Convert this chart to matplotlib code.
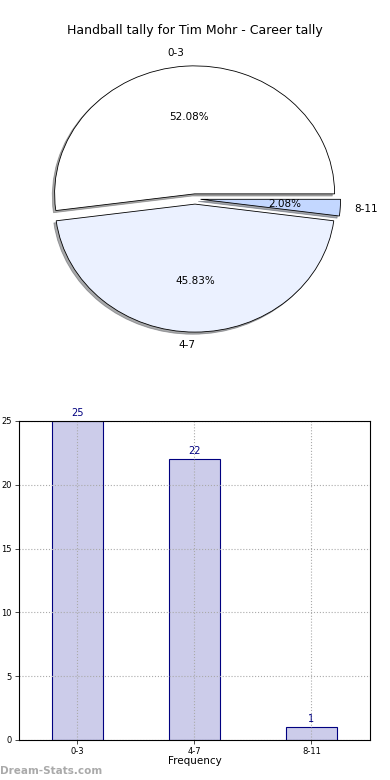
import matplotlib
matplotlib.use("Agg")
from matplotlib import pyplot as plt

labels = ["0-3", "4-7", "8-11"]
counts = [25, 22, 1]
pie_colors = ["#ffffff", "#ebf1ff", "#c3d7ff"]

fig = plt.figure(figsize=(3.9, 7.8), dpi=100)

# pie on top
ax1 = fig.add_axes([0.0692, 0.548, 0.8615, 0.3938])
wedges, texts, autotexts = ax1.pie(
    counts, labels=labels, colors=pie_colors, autopct="%.2f%%",
    explode=[0.04, 0.04, 0.04],
    shadow={"ox": -0.012, "oy": -0.012, "shade": 0.65}, startangle=0,
    wedgeprops=dict(edgecolor="black", linewidth=0.6),
    textprops=dict(fontsize=7.5))
texts[1].set_ha("right")  # old style label alignment
ax1.set_aspect("auto")
ax1.set_xlim(-1.2, 1.2)
ax1.set_ylim(-1.2, 1.2)
fig.text(0.5, 0.9615, "Handball tally for Tim Mohr - Career tally",
         ha="center", va="center", fontsize=9)

# bar chart below
ax2 = fig.add_axes([0.0487, 0.0513, 0.9, 0.409])
x = list(range(len(labels)))
bars = ax2.bar(x, counts, width=0.44, color="#ccccea", edgecolor="#000080",
               linewidth=0.8, zorder=2)
for xi, c in zip(x, counts):
    ax2.text(xi, c + 0.25, str(c), ha="center", va="bottom",
             fontsize=7, color="#000080")
ax2.set_xlim(-0.5, 2.5)
ax2.set_ylim(0, 25)
ax2.set_xticks(x)
ax2.set_xticklabels(labels)
ax2.set_yticks([0, 5, 10, 15, 20, 25])
ax2.tick_params(labelsize=6, length=3, width=0.5, pad=2)
ax2.grid(True, linestyle=":", color="#aaaaaa", linewidth=0.8, zorder=1)
ax2.set_axisbelow(False)
ax2.set_xlabel("Frequency", fontsize=7.5, labelpad=0)
for s in ax2.spines.values():
    s.set_linewidth(0.8)
    s.set_zorder(5)

fig.text(0.0, 0.005, "Dream-Stats.com", fontsize=7.5, color="#aaaaaa",
         fontweight="bold", ha="left", va="bottom")

plt.savefig("out.png", dpi=100)
